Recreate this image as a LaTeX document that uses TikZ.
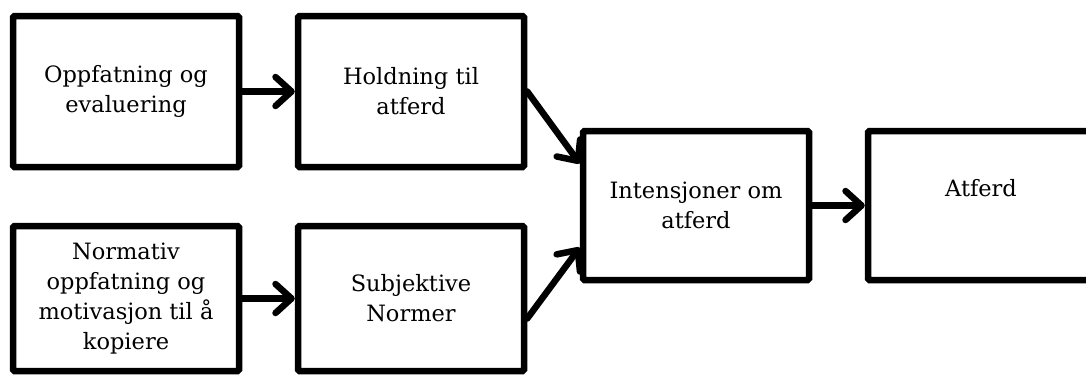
\documentclass[tikz,border=0pt]{standalone}
\usepackage{fontspec}
\setmainfont{DejaVu Serif}
\usetikzlibrary{arrows.meta,calc}
\tikzset{
  lbl/.style={font=\fontsize{22.5pt}{30pt}\selectfont},
  box/.style={draw=black, line width=6.5pt, rounded corners=1.5pt, fill=white,
    minimum width=226pt, align=center, inner sep=0pt, lbl},
  tall/.style={minimum height=151pt},
  mid/.style={minimum height=149pt},
  low/.style={minimum height=145pt},
  arr/.style={line width=6.5pt, line cap=round, -{Straight Barb[length=16pt,width=29pt,line cap=round,line join=round]}}
}
\begin{document}
\begin{tikzpicture}[x=1pt,y=1pt]
\useasboundingbox (0,0) rectangle (1086,376);
\clip (0,0) rectangle (1086,376);
\node[box,tall] (b1) at (126,284.5) {Oppfatning og\\evaluering};
\node[box,tall] (b2) at (411,284.5) {Holdning til\\atferd};
\node[box,low]  (b3) at (126,77.5) {Normativ\\oppfatning og\\motivasjon til å\\kopiere};
\node[box,low]  (b4) at (411,77.5) {Subjektive\\Normer};
\node[box,mid]  (b5) at (696,170.5) {Intensjoner om\\atferd};
\node[box,mid]  (b6) at (981,170.5) {};
\node[lbl] (t6) at (981,188) {Atferd};
\draw[arr] (b1.east) -- (b2.west);
\draw[arr] (b3.east) -- (b4.west);
\draw[arr] (b5.east) -- (b6.west);
\draw[arr] (b2.east) -- ($(b5.west)+(0,42)$);
\draw[arr] ($(b4.east)+(0,-20)$) -- ($(b5.west)+(0,-42)$);
\end{tikzpicture}
\end{document}
